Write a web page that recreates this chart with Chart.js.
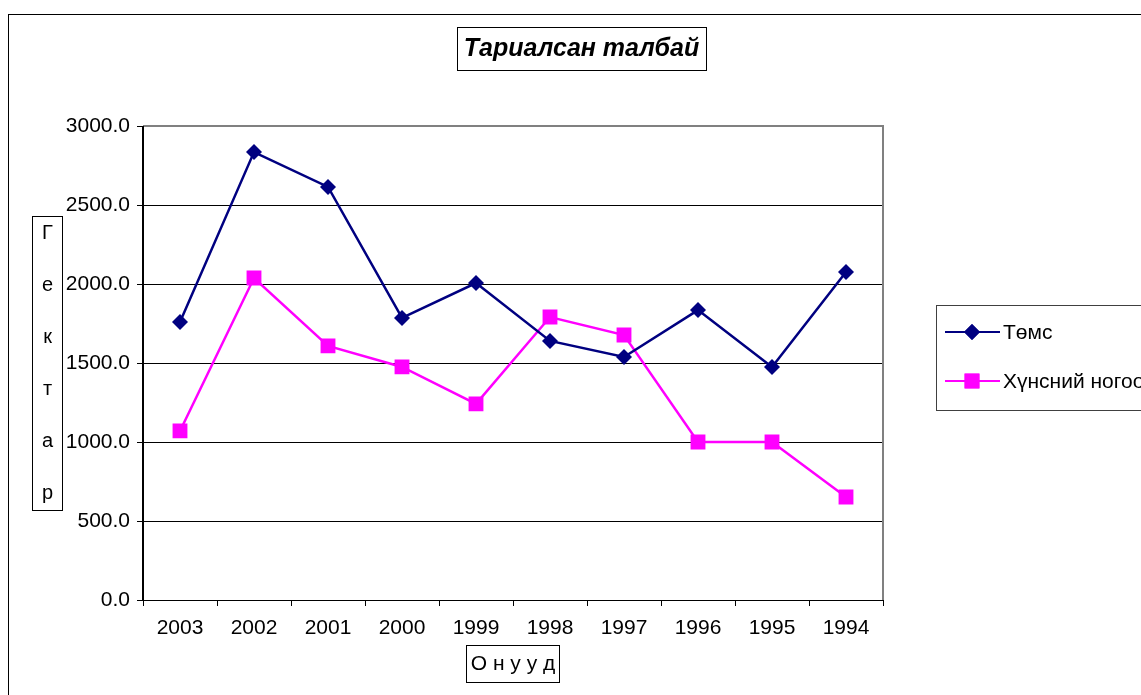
<!DOCTYPE html>
<html>
<head>
<meta charset="utf-8">
<script src="https://cdn.jsdelivr.net/npm/chart.js@4.4.1/dist/chart.umd.min.js"></script>
<style>
html,body{margin:0;padding:0;background:#fff;overflow:hidden;}
canvas{display:block;}
</style>
</head>
<body>
<canvas id="c" width="1141" height="695"></canvas>
<script>
const categories = ['2003','2002','2001','2000','1999','1998','1997','1996','1995','1994'];
const potatoValues = [1760, 2835, 2614, 1785, 2006, 1640, 1538, 1835, 1475, 2076];
const vegetableValues = [1070, 2038, 1608, 1475, 1241, 1791, 1677, 1000, 1000, 652];
const seriesNames = ['Төмс', 'Хүнсний ногоо'];
const chartTitle = 'Тариалсан талбай';
const yAxisTitle = ['Г','е','к','т','а','р'];
const xAxisTitle = 'О н у у д';
const yTicks = [0, 500, 1000, 1500, 2000, 2500, 3000];

const FONT = '"Liberation Sans", Arial, sans-serif';
const colors = ['#000080', '#FF00FF'];
const styles = ['rectRot', 'rect'];
const radii = [8, 10.5];

const decor = {
  id: 'decor',
  afterDraw(chart) {
    const ctx = chart.ctx;
    const a = chart.chartArea;
    ctx.save();
    // outer chart border
    ctx.strokeStyle = '#000';
    ctx.lineWidth = 1;
    ctx.strokeRect(8.5, 14.5, 1300, 900);
    // plot area border top and right (gray)
    ctx.strokeStyle = '#808080';
    ctx.lineWidth = 2;
    ctx.beginPath();
    ctx.moveTo(a.left, a.top);
    ctx.lineTo(a.right, a.top);
    ctx.lineTo(a.right, a.bottom);
    ctx.stroke();
    // left axis line
    ctx.strokeStyle = '#000';
    ctx.lineWidth = 2;
    ctx.beginPath();
    ctx.moveTo(a.left, a.top);
    ctx.lineTo(a.left, a.bottom);
    ctx.stroke();
    ctx.lineWidth = 1;
    ctx.beginPath();
    ctx.moveTo(a.left, a.bottom + 0.5);
    ctx.lineTo(a.right, a.bottom + 0.5);
    ctx.stroke();

    // title
    ctx.fillStyle = '#fff';
    ctx.strokeStyle = '#000';
    ctx.lineWidth = 1;
    ctx.fillRect(457, 27, 249, 43);
    ctx.strokeRect(457.5, 27.5, 249, 43);
    ctx.fillStyle = '#000';
    ctx.font = 'italic bold 25px ' + FONT;
    ctx.textAlign = 'center';
    ctx.textBaseline = 'middle';
    ctx.fillText(chartTitle, 581.5, 49);

    // y axis title
    ctx.strokeStyle = '#000';
    ctx.strokeRect(32.5, 216.5, 30, 294);
    ctx.font = '20px ' + FONT;
    yAxisTitle.forEach((ch, i) => {
      ctx.fillText(ch, 47.5, 233 + i * 52);
    });

    // x axis title
    ctx.font = '21px ' + FONT;
    ctx.strokeRect(466.5, 645.5, 93, 37);
    ctx.fillText(xAxisTitle, 513, 664);

    // legend
    ctx.strokeStyle = '#404040';
    ctx.strokeRect(936.5, 305.5, 400, 105);
    ctx.textAlign = 'left';
    const ly = [332, 381];
    seriesNames.forEach((name, i) => {
      ctx.strokeStyle = colors[i];
      ctx.lineWidth = 2;
      ctx.beginPath();
      ctx.moveTo(945, ly[i]);
      ctx.lineTo(1000, ly[i]);
      ctx.stroke();
      ctx.fillStyle = colors[i];
      Chart.helpers.drawPoint(ctx, {pointStyle: styles[i], radius: radii[i], borderWidth: 0}, 972, ly[i]);
      ctx.fill();
      ctx.fillStyle = '#000';
      ctx.fillText(name, 1003, ly[i] + 1);
    });
    ctx.restore();
  }
};

new Chart(document.getElementById('c'), {
  type: 'line',
  data: {
    labels: categories,
    datasets: [
      {
        label: seriesNames[0],
        data: potatoValues,
        borderColor: colors[0],
        backgroundColor: colors[0],
        borderWidth: 2.5,
        pointStyle: styles[0],
        pointRadius: radii[0],
        pointBorderWidth: 0,
        tension: 0
      },
      {
        label: seriesNames[1],
        data: vegetableValues,
        borderColor: colors[1],
        backgroundColor: colors[1],
        borderWidth: 2.5,
        pointStyle: styles[1],
        pointRadius: radii[1],
        pointBorderWidth: 0,
        tension: 0
      }
    ]
  },
  options: {
    responsive: false,
    animation: false,
    devicePixelRatio: 1,
    layout: { padding: { left: 0, top: 126, right: 258, bottom: 0 } },
    plugins: {
      legend: { display: false },
      title: { display: false },
      tooltip: { enabled: false }
    },
    scales: {
      x: {
        offset: true,
        border: { display: false },
        grid: {
          offset: true,
          drawOnChartArea: false,
          drawTicks: true,
          tickLength: 6,
          color: '#000',
          lineWidth: 1
        },
        ticks: {
          color: '#000',
          font: { family: FONT, size: 21 },
          padding: 10,
          maxRotation: 0,
          autoSkip: false
        },
        afterFit(scale) { scale.height = 95; }
      },
      y: {
        min: 0,
        max: 3000,
        afterBuildTicks(scale) { scale.ticks = yTicks.map(v => ({ value: v })); },
        border: { display: false },
        grid: {
          color: '#000',
          lineWidth: 1,
          drawTicks: true,
          tickLength: 6
        },
        ticks: {
          color: '#000',
          font: { family: FONT, size: 21 },
          padding: 7,
          callback: v => Number(v).toFixed(1)
        },
        afterFit(scale) { scale.width = 143; }
      }
    }
  },
  plugins: [decor]
});
</script>
</body>
</html>
